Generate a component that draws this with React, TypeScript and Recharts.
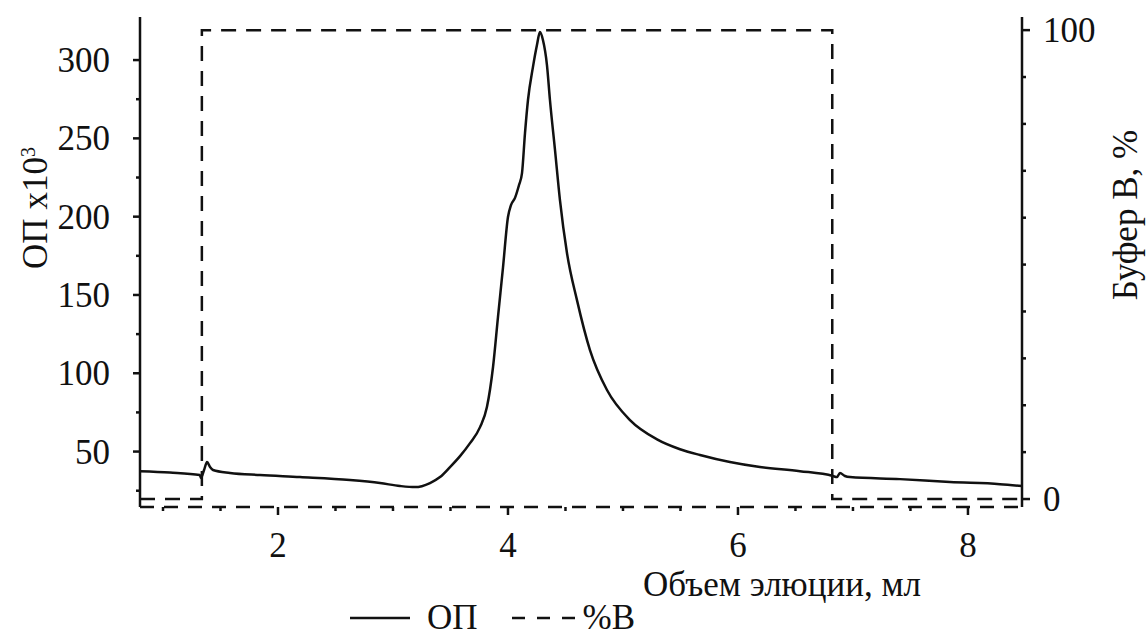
import { ComposedChart, Line, XAxis, YAxis } from 'recharts';

// elution volume (ml) and optical density x10^3
const odVolume = [
  0.8, 1.06, 1.32, 1.33, 1.357, 1.383, 1.409, 1.435, 1.583, 1.843, 2.191, 2.626, 2.887, 3.061,
  3.191, 3.322, 3.409, 3.496, 3.583, 3.67, 3.757, 3.817, 3.87, 3.913, 3.957, 4.0, 4.026, 4.061,
  4.096, 4.122, 4.148, 4.174, 4.217, 4.252, 4.278, 4.304, 4.339, 4.365, 4.409, 4.452, 4.513,
  4.6, 4.713, 4.861, 5.061, 5.296, 5.496, 5.67, 5.93, 6.191, 6.539, 6.826, 6.861, 6.887, 6.93,
  6.974, 7.409, 7.843, 8.278, 8.47,
];
const odValue = [
  37.5, 36.6, 35.0, 33.1, 38.2, 43.3, 40.1, 38.2, 36.3, 35.0, 33.7, 31.8, 29.9, 28.0,
  27.3, 29.9, 33.7, 40.1, 47.1, 55.4, 65.6, 78.4, 104.0, 135.9, 167.8, 199.8, 207.4, 212.0,
  220.2, 227.8, 253.4, 274.5, 295.5, 309.6, 317.9, 312.8, 296.8, 274.5, 242.5, 210.6, 176.8,
  146.7, 114.8, 89.3, 70.1, 57.8, 51.5, 47.8, 43.3, 40.1, 37.5, 34.4, 33.7, 36.3, 34.4,
  33.7, 32.4, 30.5, 29.2, 28.0,
];

// buffer B gradient, %
const bufferVolume = [0.8, 1.338, 1.338, 6.82, 6.82, 8.47];
const bufferPercent = [0, 0, 100, 100, 0, 0];

const xTicks = [1, 1.5, 2, 2.5, 3, 3.5, 4, 4.5, 5, 5.5, 6, 6.5, 7, 7.5, 8];
const xLabels = [2, 4, 6, 8];
const leftTicks = [25, 50, 75, 100, 125, 150, 175, 200, 225, 250, 275, 300];
const leftLabels = [50, 100, 150, 200, 250, 300];
const rightTicks = [0, 10, 20, 30, 40, 50, 60, 70, 80, 90, 100];
const rightLabels = [0, 100];

const odData = odVolume.map((x, i) => ({ x, v: odValue[i] }));
const bufferData = bufferVolume.map((x, i) => ({ x, v: bufferPercent[i] }));

const FONT = 'Liberation Serif';
const INK = '#111';

const XTick = (props: any) => {
  const { x, y, payload } = props;
  const major = xLabels.includes(payload.value);
  return (
    <g>
      <line x1={x} x2={x} y1={y} y2={y + (major ? 8 : 4)} stroke={INK} strokeWidth={2.5} />
      {major && (
        <text x={x} y={y + 50} textAnchor="middle" fontSize={35} fontFamily={FONT} fill={INK}>
          {payload.value}
        </text>
      )}
    </g>
  );
};

const LeftTick = (props: any) => {
  const { x, y, payload } = props;
  const major = leftLabels.includes(payload.value);
  return (
    <g>
      <line x1={x} x2={x - (major ? 7 : 4)} y1={y} y2={y} stroke={INK} strokeWidth={2.5} />
      {major && (
        <text x={x - 30} y={y + 12} textAnchor="end" fontSize={35} fontFamily={FONT} fill={INK}>
          {payload.value}
        </text>
      )}
    </g>
  );
};

const RightTick = (props: any) => {
  const { x, y, payload } = props;
  const major = rightLabels.includes(payload.value);
  return (
    <g>
      <line x1={x} x2={x + (major ? 8 : 4)} y1={y} y2={y} stroke={INK} strokeWidth={2.5} />
      {major && (
        <text x={x + 21} y={y + 12} textAnchor="start" fontSize={35} fontFamily={FONT} fill={INK}>
          {payload.value}
        </text>
      )}
    </g>
  );
};

export default function App() {
  return (
    <div style={{ position: 'absolute', left: 0, top: 0, width: 1147, height: 637, background: '#fff', fontFamily: FONT }}>
      <ComposedChart width={1147} height={637} margin={{ top: 17, right: 25, left: 40, bottom: 70 }}>
        <XAxis
          dataKey="x"
          type="number"
          domain={[0.8, 8.47]}
          ticks={xTicks}
          interval={0}
          allowDataOverflow
          height={60}
          tickLine={false}
          tickSize={0}
          tickMargin={0}
          tick={<XTick />}
          axisLine={{ stroke: INK, strokeWidth: 2.5, strokeDasharray: '14 10' }}
        />
        <YAxis
          yAxisId="left"
          type="number"
          domain={[14.6, 327.5]}
          ticks={leftTicks}
          interval={0}
          allowDataOverflow
          width={100}
          tickLine={false}
          tickSize={0}
          tickMargin={0}
          tick={<LeftTick />}
          axisLine={{ stroke: INK, strokeWidth: 2.5 }}
        />
        <YAxis
          yAxisId="right"
          orientation="right"
          type="number"
          domain={[-1.7, 102.8]}
          ticks={rightTicks}
          interval={0}
          allowDataOverflow
          width={100}
          tickLine={false}
          tickSize={0}
          tickMargin={0}
          tick={<RightTick />}
          axisLine={{ stroke: INK, strokeWidth: 2.5 }}
        />
        <Line
          yAxisId="right"
          data={bufferData}
          dataKey="v"
          type="linear"
          stroke={INK}
          strokeWidth={2.5}
          strokeDasharray="15 10"
          dot={false}
          isAnimationActive={false}
        />
        <Line
          yAxisId="left"
          data={odData}
          dataKey="v"
          type="monotone"
          stroke={INK}
          strokeWidth={2.5}
          dot={false}
          isAnimationActive={false}
        />
      </ComposedChart>

      <div style={{ position: 'absolute', left: 32, top: 208, transform: 'translate(-50%, -50%) rotate(-90deg)', whiteSpace: 'nowrap', fontSize: 35, lineHeight: '40px', color: INK }}>
        ОП x10<sup style={{ fontSize: 20 }}>3</sup>
      </div>
      <div style={{ position: 'absolute', left: 1126, top: 215, transform: 'translate(-50%, -50%) rotate(-90deg)', whiteSpace: 'nowrap', fontSize: 35, lineHeight: '40px', color: INK }}>
        Буфер В, %
      </div>
      <div style={{ position: 'absolute', left: 643, top: 567, whiteSpace: 'nowrap', fontSize: 35, lineHeight: '35px', color: INK }}>
        Объем элюции, мл
      </div>
      <div style={{ position: 'absolute', left: 350, top: 601, display: 'flex', alignItems: 'center', whiteSpace: 'nowrap', fontSize: 35, color: INK, lineHeight: '34px' }}>
        <svg width={62} height={10}><line x1={0} x2={60} y1={5} y2={5} stroke={INK} strokeWidth={2.5} /></svg>
        <span style={{ marginLeft: 15 }}>ОП</span>
        <svg width={66} height={10} style={{ marginLeft: 34 }}><line x1={0} x2={64} y1={5} y2={5} stroke={INK} strokeWidth={2.5} strokeDasharray="13 12" /></svg>
        <span style={{ marginLeft: 5 }}>%В</span>
      </div>
    </div>
  );
}
